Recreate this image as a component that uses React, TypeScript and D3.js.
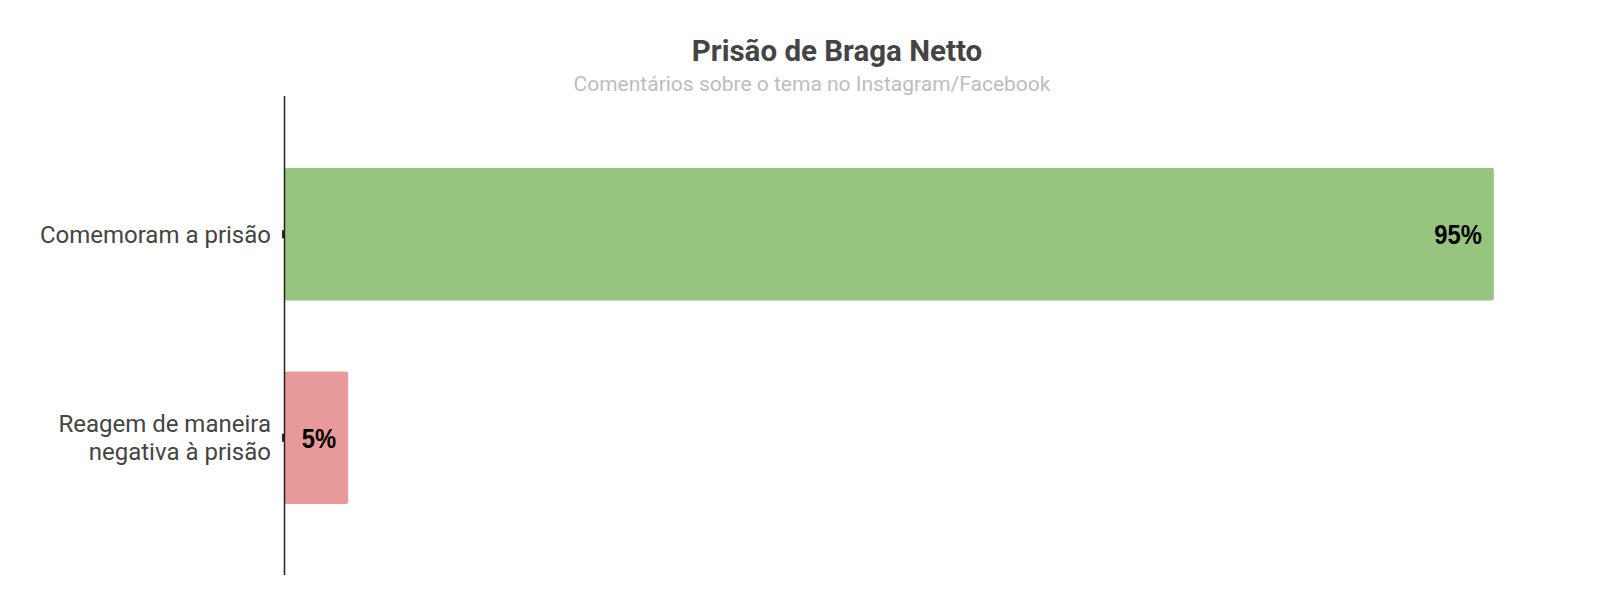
import * as d3 from 'd3';
import { type FC } from 'react';

const categories: string[][] = [
  ['Comemoram a prisão'],
  ['Reagem de maneira', 'negativa à prisão'],
];
const values: number[] = [95, 5];
const valueLabels: string[] = ['95%', '5%'];
const barColors: string[] = ['#97c47e', '#e89a9b'];

const title = 'Prisão de Braga Netto';
const subtitle = 'Comentários sobre o tema no Instagram/Facebook';

const W = 1623;
const H = 608;

const App: FC = () => {
  const x = d3.scaleLinear().domain([0, 100]).range([284.5, 1557.5]);
  const y = d3
    .scaleBand<number>()
    .domain(values.map((_, i) => i))
    .range([132.5, 539.5])
    .paddingInner(0.35)
    .paddingOuter(0.175);

  const bw = y.bandwidth();
  const lineH = 28;
  const labelX = 271;

  return (
    <svg
      width={W}
      height={H}
      style={{ position: 'absolute', left: 0, top: 0, display: 'block' }}
    >
      <rect width={W} height={H} fill="#fff" />

      {/* Title */}
      <text
        x={837}
        y={61}
        textAnchor="middle"
        fontFamily="Roboto"
        fontWeight={700}
        fontSize={29.5}
        fill="#444"
      >
        {title}
      </text>
      <text
        x={812}
        y={91}
        textAnchor="middle"
        fontFamily="Roboto"
        fontSize={21}
        fill="#bdbdbd"
      >
        {subtitle}
      </text>

      {/* Bars */}
      {values.map((v, i) => (
        <rect
          key={`bar-${i}`}
          x={x(0)}
          y={y(i) ?? 0}
          width={x(v) - x(0)}
          height={bw}
          rx={2}
          fill={barColors[i]}
        />
      ))}

      {/* Axis line */}
      <line x1={x(0)} x2={x(0)} y1={96} y2={575} stroke="#222" strokeWidth={1.5} />

      {/* Ticks and category labels */}
      {categories.map((lines, i) => {
        const cy = (y(i) ?? 0) + bw / 2;
        const first = -((lines.length - 1) * lineH) / 2;
        return (
          <g key={`cat-${i}`}>
            <rect x={x(0) - 2.5} y={cy - 4} width={2} height={8} fill="#222" />
            <text
              x={labelX}
              y={cy}
              textAnchor="end"
              fontFamily="Roboto"
              fontSize={24}
              fill="#444"
            >
              {lines.map((l, j) => (
                <tspan key={j} x={labelX} dy={j === 0 ? first + 8.4 : lineH}>
                  {l}
                </tspan>
              ))}
            </text>
          </g>
        );
      })}

      {/* Value labels */}
      {values.map((v, i) => {
        const cy = (y(i) ?? 0) + bw / 2;
        const tx = x(v) - 12;
        return (
          <text
            key={`val-${i}`}
            transform={`translate(${tx},${cy + 10}) scale(0.85,1)`}
            textAnchor="end"
            fontFamily="Liberation Sans"
            fontWeight={700}
            fontSize={28}
            fill="#000"
          >
            {valueLabels[i]}
          </text>
        );
      })}
    </svg>
  );
};

export default App;
